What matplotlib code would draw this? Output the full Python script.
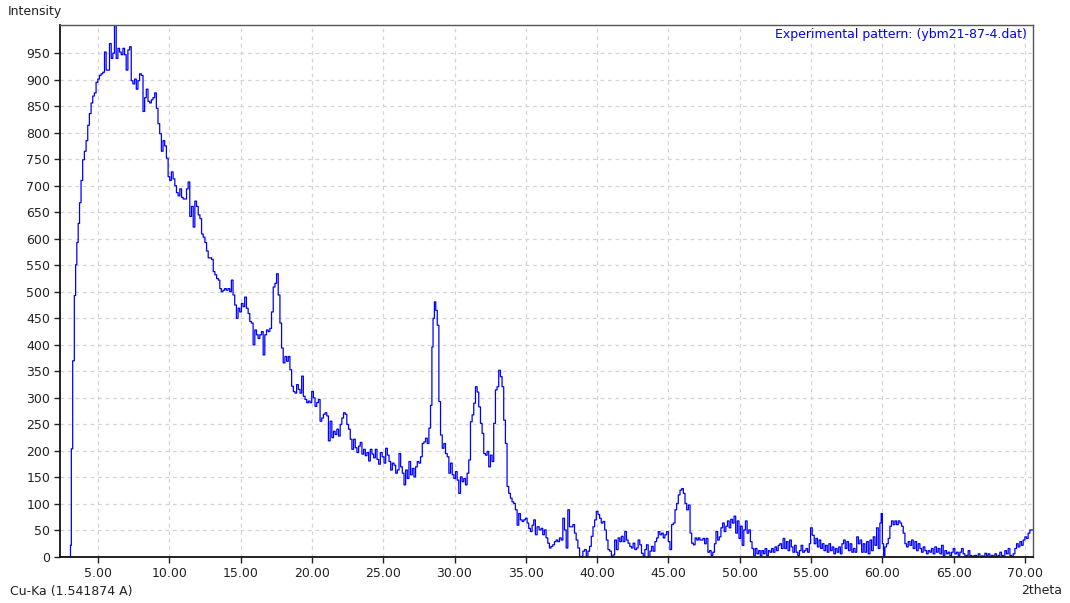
import numpy as np
import matplotlib
matplotlib.use("Agg")
from matplotlib import pyplot as plt

# 2theta positions (deg) and intensities
two_theta = [
    2.40, 2.90, 3.05, 3.10, 3.17, 3.29, 3.40, 3.47, 3.57, 3.66, 3.76, 3.87, 3.99, 4.11, 4.23, 4.34, 4.46, 4.58, 4.69, 4.81,
    4.93, 5.05, 5.16, 5.28, 5.40, 5.52, 5.63, 5.75, 5.87, 5.99, 6.10, 6.22, 6.34, 6.46, 6.57, 6.69, 6.81, 6.92, 7.04, 7.16,
    7.28, 7.39, 7.51, 7.63, 7.75, 7.86, 7.98, 8.10, 8.22, 8.33, 8.45, 8.57, 8.69, 8.80, 8.92, 9.04, 9.15, 9.27, 9.39, 9.51,
    9.62, 9.74, 9.86, 9.98, 10.09, 10.21, 10.33, 10.45, 10.56, 10.68, 10.80, 10.92, 11.03, 11.15, 11.27, 11.38, 11.50, 11.62, 11.74, 11.85,
    11.97, 12.09, 12.21, 12.32, 12.44, 12.56, 12.67, 12.79, 12.91, 13.03, 13.14, 13.26, 13.38, 13.50,
    13.59, 13.71, 13.83, 13.94, 14.06, 14.18, 14.30, 14.41, 14.53, 14.65, 14.77, 14.88, 15.00, 15.12, 15.23, 15.35, 15.47, 15.59, 15.70, 15.82,
    15.94, 16.06, 16.17, 16.29, 16.41, 16.53, 16.64, 16.76, 16.88, 17.00, 17.11, 17.23, 17.35, 17.47, 17.58, 17.70, 17.82, 17.93, 18.05, 18.17,
    18.29, 18.40, 18.52, 18.64, 18.76, 18.87, 18.99, 19.11, 19.23, 19.34, 19.46, 19.58, 19.70, 19.81, 19.93, 20.05, 20.16, 20.28, 20.40, 20.52,
    20.63, 20.75, 20.87, 20.99, 21.10, 21.22, 21.34, 21.46, 21.57, 21.69, 21.81, 21.93, 22.04, 22.16, 22.28, 22.39, 22.51, 22.63, 22.75, 22.86,
    22.98, 23.10, 23.22, 23.33, 23.45, 23.57, 23.69, 23.80, 23.92, 24.04, 24.15, 24.27, 24.39, 24.51, 24.62, 24.74, 24.86,
    25.00, 25.12, 25.23, 25.35, 25.47, 25.58, 25.70, 25.82, 25.93, 26.05, 26.17, 26.28, 26.40, 26.52, 26.63, 26.75, 26.86, 26.98, 27.10, 27.21,
    27.33, 27.45, 27.56, 27.68, 27.80, 27.91, 28.03, 28.15, 28.26, 28.38, 28.45, 28.54, 28.64, 28.73, 28.85, 28.96, 29.08, 29.20, 29.31, 29.43,
    29.55, 29.66, 29.78, 29.90, 30.01, 30.13, 30.24, 30.36, 30.48, 30.59, 30.71, 30.83, 30.94, 31.06, 31.18, 31.29, 31.41, 31.53, 31.64, 31.76,
    31.88, 31.99, 32.11, 32.23, 32.34, 32.46, 32.58, 32.69, 32.81, 32.93, 33.04, 33.16, 33.28, 33.39, 33.51, 33.63, 33.74, 33.86, 33.98, 34.09,
    34.21, 34.33, 34.45, 34.56, 34.68, 34.80, 34.91, 35.03, 35.15, 35.26, 35.38, 35.50, 35.61, 35.73, 35.85,
    36.01, 36.13, 36.24, 36.36, 36.48, 36.60, 36.71, 36.83, 36.95, 37.07, 37.18, 37.30, 37.42, 37.54, 37.65, 37.77, 37.89, 38.00, 38.12, 38.24,
    38.36, 38.47, 38.59, 38.71, 38.83, 38.94, 39.06, 39.18, 39.30, 39.41, 39.53, 39.65, 39.77, 39.88, 40.00, 40.12, 40.23, 40.35, 40.47, 40.59,
    40.70, 40.82, 40.94, 41.06, 41.17, 41.29, 41.41, 41.53, 41.64, 41.76, 41.88, 42.00, 42.11, 42.23, 42.35, 42.46, 42.58, 42.70, 42.82, 42.93,
    43.05, 43.17, 43.29, 43.40, 43.52, 43.64, 43.76, 43.87, 43.99, 44.11, 44.23, 44.34, 44.46, 44.58, 44.69, 44.81, 44.93, 45.05, 45.16, 45.28,
    45.40, 45.52, 45.63, 45.75, 45.87, 45.99, 46.10, 46.22, 46.34, 46.46, 46.57, 46.69, 46.81, 46.93, 47.04, 47.16,
    47.25, 47.36, 47.48, 47.59, 47.71, 47.82, 47.94, 48.05, 48.17, 48.28, 48.39, 48.51, 48.62, 48.74, 48.85, 48.97, 49.08, 49.20, 49.31, 49.43,
    49.54, 49.66, 49.77, 49.89, 50.00, 50.11, 50.23, 50.34, 50.46, 50.57, 50.69, 50.80, 50.92, 51.03, 51.15, 51.26, 51.38, 51.49, 51.61, 51.72,
    51.83, 51.95, 52.06, 52.18, 52.29, 52.41, 52.52, 52.64, 52.75, 52.87, 52.98, 53.10, 53.21, 53.33, 53.44, 53.56, 53.67, 53.78, 53.90, 54.01,
    54.13, 54.24, 54.36, 54.47, 54.59, 54.70, 54.82, 54.93, 55.00, 55.16, 55.28, 55.39, 55.50, 55.62, 55.73, 55.85, 55.96, 56.08, 56.19, 56.31,
    56.42, 56.54, 56.65, 56.77, 56.88, 57.00, 57.11, 57.22, 57.34, 57.45, 57.57, 57.68, 57.80, 57.91, 58.03, 58.14, 58.26, 58.37, 58.49, 58.60,
    58.71, 58.83, 58.95, 59.07, 59.18, 59.30, 59.42, 59.53, 59.65, 59.77, 59.88, 59.95, 60.05, 60.12, 60.23, 60.35, 60.47, 60.58, 60.70, 60.82,
    60.93, 61.05, 61.17, 61.29, 61.40, 61.52, 61.64, 61.75, 61.87, 61.99, 62.10, 62.22, 62.34, 62.45, 62.57, 62.69, 62.80, 62.92, 63.04, 63.15,
    63.27, 63.39, 63.50, 63.62, 63.74, 63.86, 63.97, 64.09, 64.21, 64.32, 64.44, 64.56, 64.67, 64.79, 64.91, 65.02, 65.14, 65.26, 65.37, 65.49,
    65.61, 65.72, 65.84, 65.96, 66.07, 66.19, 66.31, 66.43, 66.54, 66.66, 66.78, 66.89, 67.01, 67.13, 67.24, 67.36, 67.48, 67.59, 67.71, 67.83,
    67.94, 68.06, 68.18, 68.29, 68.41, 68.53, 68.64, 68.76, 68.88, 69.00, 69.11, 69.23, 69.35, 69.46, 69.58, 69.70, 69.81, 69.93, 70.05, 70.16,
    70.28, 70.40, 70.56,
]
intensity = [
    0, 0, 0, 22, 204, 370, 493, 551, 593, 629, 668, 710, 749, 765, 785, 814, 836, 856, 869, 875,
    895, 901, 908, 911, 914, 952, 918, 918, 968, 940, 950, 1002, 940, 959, 952, 947, 959, 947, 918, 956,
    962, 898, 892, 901, 882, 898, 911, 908, 840, 866, 882, 859, 856, 862, 866, 875, 846, 817, 798, 765,
    785, 775, 752, 717, 710, 726, 713, 700, 687, 681, 694, 678, 675, 675, 694, 707, 642, 661, 622, 671,
    661, 645, 638, 609, 603, 593, 577, 564, 564, 561, 538, 532, 525, 522,
    506, 500, 503, 506, 503, 506, 500, 522, 494, 475, 450, 469, 462, 478, 472, 490, 469, 459, 444, 441,
    400, 428, 419, 412, 419, 425, 381, 419, 428, 425, 431, 462, 509, 516, 534, 494, 441, 394, 366, 378,
    369, 378, 353, 322, 312, 309, 325, 316, 309, 341, 303, 297, 291, 294, 291, 312, 300, 284, 291, 297,
    256, 262, 269, 272, 266, 219, 256, 225, 237, 231, 241, 228, 250, 262, 272, 269, 250, 241, 222, 203,
    222, 206, 197, 209, 216, 194, 203, 191, 197, 181, 203, 194, 187, 203, 184, 175, 197,
    189, 177, 205, 192, 180, 164, 177, 173, 158, 164, 195, 170, 158, 136, 164, 148, 180, 155, 167, 151,
    170, 180, 177, 189, 214, 217, 224, 214, 243, 286, 396, 450, 481, 465, 437, 293, 230, 205, 214, 195,
    189, 158, 177, 155, 148, 161, 145, 120, 151, 142, 148, 136, 158, 183, 255, 268, 290, 321, 311, 283,
    252, 233, 195, 192, 199, 170, 192, 180, 252, 315, 321, 352, 340, 321, 258, 214, 133, 120, 111, 104,
    101, 89, 60, 82, 70, 67, 70, 73, 64, 54, 48, 60, 70, 42, 57,
    51, 54, 42, 51, 36, 26, 17, 20, 23, 29, 32, 29, 36, 32, 73, 51, 17, 89, 57, 57,
    61, 45, 32, 17, 1, 1, 11, 14, 1, 11, 20, 39, 57, 70, 86, 80, 73, 64, 67, 51,
    32, 14, 11, 1, 4, 32, 14, 36, 29, 39, 29, 48, 32, 26, 20, 17, 26, 14, 17, 32,
    23, 7, 1, 14, 23, 1, 11, 20, 11, 29, 36, 48, 42, 45, 36, 42, 48, 29, 14, 61,
    64, 89, 101, 117, 126, 129, 120, 101, 89, 98, 45, 26, 23, 36, 32, 36,
    32, 32, 35, 25, 35, 9, 12, 3, 9, 25, 48, 32, 38, 55, 64, 48, 58, 68, 55, 71,
    64, 77, 45, 68, 35, 58, 22, 51, 68, 45, 51, 29, 16, 3, 16, 6, 12, 3, 12, 6,
    16, 3, 12, 9, 16, 9, 19, 12, 22, 25, 16, 35, 16, 29, 12, 32, 19, 9, 22, 9,
    3, 12, 22, 9, 12, 16, 9, 25, 55, 41, 25, 35, 19, 32, 16, 25, 12, 22, 9, 25,
    12, 19, 6, 16, 9, 19, 6, 25, 32, 16, 29, 12, 25, 9, 16, 9, 38, 25, 32, 9,
    25, 9, 29, 6, 32, 12, 38, 22, 55, 16, 64, 82, 25, 3, 19, 25, 35, 58, 68, 61,
    68, 61, 68, 64, 58, 45, 25, 19, 29, 22, 32, 16, 29, 12, 25, 16, 9, 19, 12, 6,
    12, 9, 16, 6, 19, 9, 16, 6, 22, 3, 12, 6, 9, 3, 9, 16, 6, 9, 3, 9,
    16, 6, 2, 3, 12, 3, 1, 2, 3, 1, 6, 1, 2, 1, 7, 3, 6, 1, 3, 1,
    6, 1, 3, 9, 3, 1, 12, 6, 16, 3, 1, 6, 16, 25, 19, 29, 22, 32, 38, 35,
    45, 51, 51,
]

x_ticks = [5, 10, 15, 20, 25, 30, 35, 40, 45, 50, 55, 60, 65, 70]
y_ticks = list(range(0, 951, 50))

fig = plt.figure(figsize=(10.70, 6.03), dpi=100)
ax = fig.add_axes([60 / 1070, 46 / 603, 973 / 1070, 532 / 603])

ax.plot(two_theta, intensity, color="#0000ff", linewidth=0.9, drawstyle="steps-mid")

ax.set_xlim(2.34, 70.56)
ax.set_ylim(0, 1003)
ax.set_xticks(x_ticks)
ax.set_xticklabels(["%.2f" % t for t in x_ticks])
ax.set_yticks(y_ticks)
ax.tick_params(direction="out", length=4, width=1, labelsize=9, colors="#222222", pad=3)

ax.grid(True, color="#d4d4d4", linestyle=(0, (3, 3)), linewidth=0.9)
ax.set_axisbelow(True)
for side in ["left", "bottom"]:
    ax.spines[side].set_color("#111111")
    ax.spines[side].set_linewidth(1.3)
for side in ["top", "right"]:
    ax.spines[side].set_color("#555555")
    ax.spines[side].set_linewidth(1.0)

ax.text(0.9935, 0.982, "Experimental pattern: (ybm21-87-4.dat)", transform=ax.transAxes,
        ha="right", va="center", color="#0000ff", fontsize=9)

fig.text(8 / 1070, 1 - 12 / 603, "Intensity", ha="left", va="center", fontsize=9, color="#222222")
fig.text(10 / 1070, 1 - 591 / 603, "Cu-Ka (1.541874 A)", ha="left", va="center", fontsize=9, color="#222222")
fig.text(1062 / 1070, 1 - 591 / 603, "2theta", ha="right", va="center", fontsize=9, color="#222222")

fig.savefig("out.png", dpi=100)
